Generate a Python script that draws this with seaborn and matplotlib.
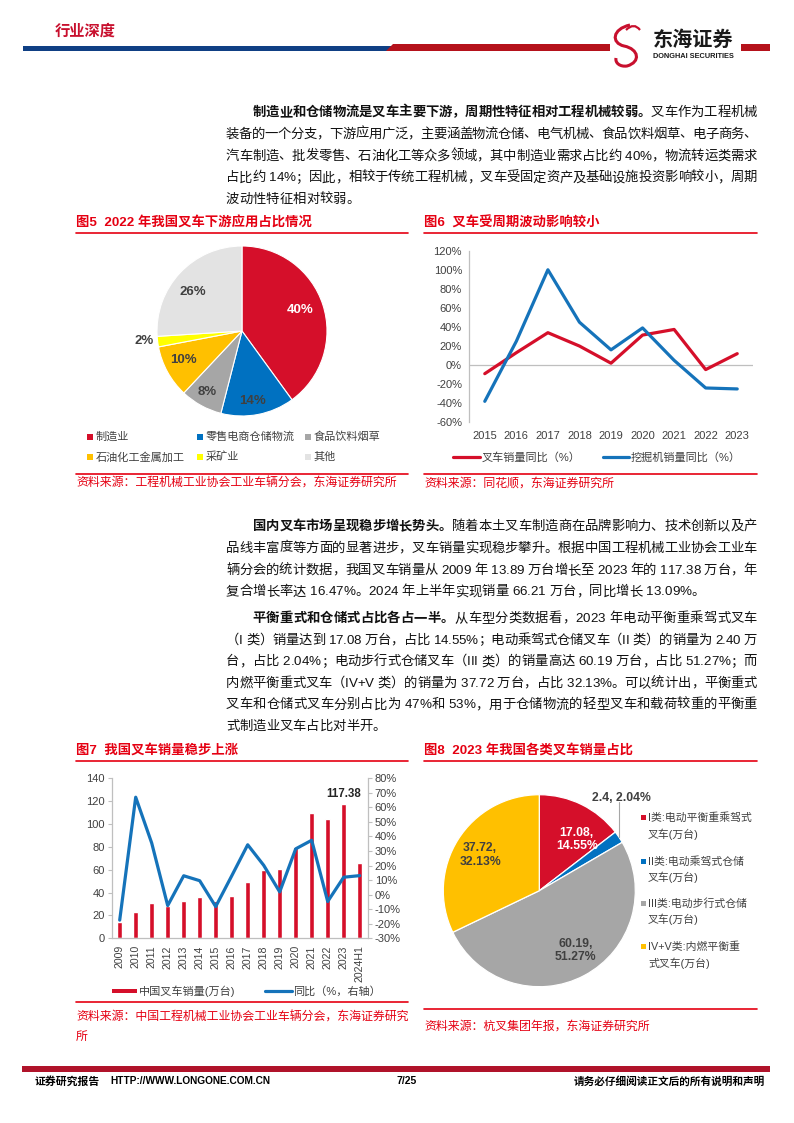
import numpy as np
import pandas as pd
import matplotlib
matplotlib.use('Agg')
import matplotlib.pyplot as plt
import seaborn as sns
from matplotlib import font_manager as fm
from matplotlib.patches import Rectangle, Polygon, PathPatch
from matplotlib.path import Path

W, H = 794, 1123

# ---------------- data ----------------
downstream = ['制造业', '零售电商仓储物流', '食品饮料烟草', '石油化工金属加工', '采矿业', '其他']
downstream_pct = [40, 14, 8, 10, 2, 26]

cycle_years = [2015, 2016, 2017, 2018, 2019, 2020, 2021, 2022, 2023]
forklift_yoy = [-9, 13, 34, 20, 2, 31.5, 37.4, -4.7, 12]
excavator_yoy = [-38, 25, 100, 45, 16, 39, 5, -24, -25]

sales_years = ['2009', '2010', '2011', '2012', '2013', '2014', '2015', '2016',
               '2017', '2018', '2019', '2020', '2021', '2022', '2023', '2024H1']
sales = [13.89, 22.8, 31.2, 28.7, 32.9, 36.0, 32.8, 37.0,
         49.7, 59.7, 60.8, 80.0, 109.9, 104.8, 117.38, 66.21]
sales_yoy = [-17.5, 67, 35.5, -7.5, 13, 9.6, -8.2, 12.9,
             34.3, 20.2, 1.9, 31.5, 37.4, -4.7, 12.0, 13.09]

types = ['I类:电动平衡重乘驾式\n叉车(万台)', 'II类:电动乘驾式仓储\n叉车(万台)',
         'III类:电动步行式仓储\n叉车(万台)', 'IV+V类:内燃平衡重\n式叉车(万台)']
type_sales = [17.08, 2.4, 60.19, 37.72]
type_pct = [14.55, 2.04, 51.27, 32.13]

# ---------------- style ----------------
RED = '#D50F2A'
BLUE = '#0071C1'
LBLUE = '#1573BA'
GRAY = '#A6A6A6'
GOLD = '#FFC000'
YELLOW = '#FFFF00'
LGRAY = '#E3E3E3'
TRED = '#E50012'
DARK = '#404040'
AXC = '#BFBFBF'

sns.set_style('white')
plt.rcParams['font.family'] = ['Liberation Sans', 'Noto Sans CJK SC']
plt.rcParams['axes.unicode_minus'] = False

fig = plt.figure(figsize=(W / 100, H / 100), dpi=100)
bg = fig.add_axes([0, 0, 1, 1])
bg.set_xlim(0, W)
bg.set_ylim(H, 0)
bg.axis('off')


def rect(x0, y0, x1, y1):
    return [x0 / W, 1 - y1 / H, (x1 - x0) / W, (y1 - y0) / H]


def txt(x, y, s, size, color='black', weight='normal', ha='left', va='center', **kw):
    return bg.text(x, y, s, fontsize=size, color=color, weight=weight,
                   ha=ha, va=va, **kw)


# ---------- justified body text, glyph by glyph ----------
BODY_PT = 9.6
BODY_EM = BODY_PT * 100 / 72
_paths = {}


def glyph_adv(ch, bold):
    fam = 'Liberation Sans' if ord(ch) < 128 else 'Noto Sans CJK SC'
    key = (fam, bold)
    if key not in _paths:
        _paths[key] = fm.findfont(fm.FontProperties(family=fam, weight='bold' if bold else 'normal'))
    f = fm.get_font(_paths[key])
    f.set_size(100, 72)
    g = f.load_char(ord(ch))
    return g.linearHoriAdvance / 65536 / 100 * BODY_EM, fam


def body_line(x0, x1, yc, parts, justify=True):
    chars = [(c, b) for s, b in parts for c in s]
    info = [glyph_adv(c, b) for c, b in chars]
    gap = 0
    if justify and len(chars) > 1:
        gap = (x1 - x0 - sum(a for a, _ in info)) / (len(chars) - 1)
    x = x0
    for (c, b), (a, fam) in zip(chars, info):
        if c != ' ':
            bg.text(x, yc + 0.37 * BODY_EM, c, fontsize=BODY_PT, family=fam,
                    weight='bold' if b else 'normal', color='#111111',
                    ha='left', va='baseline')
        x += a + gap


def paragraph(y0, lines, step=21.8, left=226, right=757):
    for i, parts in enumerate(lines):
        x0 = left + 2 * BODY_EM if i == 0 else left
        body_line(x0, right, y0 + i * step, parts, justify=(i < len(lines) - 1))


# ---------------- header ----------------
txt(55, 31, '行业深度', 11, color='#C8102E', weight='bold')
bg.add_patch(Rectangle((23, 45.5), 369, 5.5, color='#0F3F84', lw=0))
bg.add_patch(Polygon([(386, 51), (393, 44), (610, 44), (610, 51)], color='#B5121B', lw=0))
bg.add_patch(Rectangle((741, 44), 29, 7, color='#B5121B', lw=0))
dragon = Path([(630, 25), (612, 29), (611, 43), (624, 46),
               (639, 49), (641, 62), (627, 66),
               (620, 67), (615, 63), (616, 58)],
              [Path.MOVETO, Path.CURVE4, Path.CURVE4, Path.CURVE4,
               Path.CURVE4, Path.CURVE4, Path.CURVE4,
               Path.CURVE4, Path.CURVE4, Path.CURVE4])
bg.add_patch(PathPatch(dragon, fill=False, edgecolor='#C8102E', lw=2.2))
bg.add_patch(PathPatch(Path([(626, 30), (634, 22), (640, 30)],
                            [Path.MOVETO, Path.CURVE3, Path.CURVE3]),
                       fill=False, edgecolor='#C8102E', lw=1.6))
txt(653, 40, '东海证券', 14.5, color='#1a1a1a', weight='bold')
txt(653, 57, 'DONGHAI SECURITIES', 5.3, color='#1a1a1a', weight='bold')

# ---------------- body text ----------------
paragraph(111, [
    [('制造业和仓储物流是叉车主要下游，周期性特征相对工程机械较弱。', True), ('叉车作为工程机械', False)],
    [('装备的一个分支，下游应用广泛，主要涵盖物流仓储、电气机械、食品饮料烟草、电子商务、', False)],
    [('汽车制造、批发零售、石油化工等众多领域，其中制造业需求占比约 40%，物流转运类需求', False)],
    [('占比约 14%；因此，相较于传统工程机械，叉车受固定资产及基础设施投资影响较小，周期', False)],
    [('波动性特征相对较弱。', False)],
])
paragraph(525, [
    [('国内叉车市场呈现稳步增长势头。', True), ('随着本土叉车制造商在品牌影响力、技术创新以及产', False)],
    [('品线丰富度等方面的显著进步，叉车销量实现稳步攀升。根据中国工程机械工业协会工业车', False)],
    [('辆分会的统计数据，我国叉车销量从 2009 年 13.89 万台增长至 2023 年的 117.38 万台，年', False)],
    [('复合增长率达 16.47%。2024 年上半年实现销量 66.21 万台，同比增长 13.09%。', False)],
])
paragraph(617, [
    [('平衡重式和仓储式占比各占一半。', True), ('从车型分类数据看，2023 年电动平衡重乘驾式叉车', False)],
    [('（I 类）销量达到 17.08 万台，占比 14.55%；电动乘驾式仓储叉车（II 类）的销量为 2.40 万', False)],
    [('台，占比 2.04%；电动步行式仓储叉车（III 类）的销量高达 60.19 万台，占比 51.27%；而', False)],
    [('内燃平衡重式叉车（IV+V 类）的销量为 37.72 万台，占比 32.13%。可以统计出，平衡重式', False)],
    [('叉车和仓储式叉车分别占比为 47%和 53%，用于仓储物流的轻型叉车和载荷较重的平衡重', False)],
    [('式制造业叉车占比对半开。', False)],
], step=21.6)


# ---------------- frames: titles / sources ----------------
def frame(x0, x1, ty, title, ly, sy, source):
    txt(x0, ty, title, 9.6, color=TRED, weight='bold')
    bg.plot([x0, x1], [ty + 10.5, ty + 10.5], color=TRED, lw=1.2)
    bg.plot([x0, x1], [ly, ly], color=TRED, lw=1.2)
    for i, s in enumerate(source):
        txt(x0, sy + i * 19, s, 8.6, color=TRED)


frame(76, 408, 222.7, '图5  2022 年我国叉车下游应用占比情况', 473.5, 484,
      ['资料来源：工程机械工业协会工业车辆分会，东海证券研究所'])
frame(424, 757, 222.7, '图6  叉车受周期波动影响较小', 473.5, 484,
      ['资料来源：同花顺，东海证券研究所'])
frame(76, 408, 750, '图7  我国叉车销量稳步上涨', 1002, 1018,
      ['资料来源：中国工程机械工业协会工业车辆分会，东海证券研究', '所'])
frame(424, 757, 750, '图8  2023 年我国各类叉车销量占比', 1009, 1027,
      ['资料来源：杭叉集团年报，东海证券研究所'])

# ---------------- Figure 5: pie ----------------
c5 = [RED, BLUE, GRAY, GOLD, YELLOW, LGRAY]
ax5 = fig.add_axes(rect(242 - 85, 331 - 85, 242 + 85, 331 + 85))
wedges5, _ = ax5.pie(downstream_pct, colors=c5, startangle=90, counterclock=False,
                     wedgeprops=dict(edgecolor='white', linewidth=0.8))
ax5.set_xlim(-1, 1)
ax5.set_ylim(-1, 1)
dist5 = [0.73, 0.83, 0.83, 0.77, 1.16, 0.74]
shift5 = [2, -2.5, -1, -2.6, -1.2, 4.8]
for w, p, d, s, i in zip(wedges5, downstream_pct, dist5, shift5, range(6)):
    a = np.deg2rad((w.theta1 + w.theta2) / 2 + s)
    ax5.text(d * np.cos(a), d * np.sin(a), f'{p}%', ha='center', va='center',
             fontsize=9.5, weight='bold', color='white' if i == 0 else DARK)

leg5_x = [90, 200, 308]
leg5_y = [437, 457]
for i, (lab, col) in enumerate(zip(downstream, c5)):
    x, y = leg5_x[i % 3], leg5_y[i // 3]
    bg.add_patch(Rectangle((x - 3, y - 3), 6, 6, color=col, lw=0))
    txt(x + 6, y, lab, 8, color=DARK)

# ---------------- Figure 6: lines ----------------
df6 = pd.DataFrame({
    'year': cycle_years * 2,
    'yoy': forklift_yoy + excavator_yoy,
    'series': ['叉车销量同比（%）'] * len(cycle_years) + ['挖掘机销量同比（%）'] * len(cycle_years),
})
ax6 = fig.add_axes(rect(469, 250.7, 753, 422.3))
ax6.set_facecolor('none')
sns.lineplot(data=df6, x='year', y='yoy', hue='series',
             palette={'叉车销量同比（%）': RED, '挖掘机销量同比（%）': LBLUE},
             linewidth=2.3, legend=False, ax=ax6)
ax6.axhline(0, color=AXC, lw=0.9, zorder=0)
ax6.set_xlim(2014.5, 2023.5)
ax6.set_ylim(-60, 120)
ax6.set_xticks(cycle_years)
ax6.set_yticks(range(-60, 121, 20))
ax6.set_yticklabels([f'{v}%' for v in range(-60, 121, 20)])
ax6.set_xlabel('')
ax6.set_ylabel('')
for k in ['top', 'right', 'bottom']:
    ax6.spines[k].set_visible(False)
ax6.spines['left'].set_color(AXC)
ax6.spines['left'].set_linewidth(0.9)
ax6.tick_params(axis='y', length=3, color=AXC, labelsize=8, labelcolor=DARK, pad=2)
ax6.tick_params(axis='x', length=0, labelsize=8, labelcolor=DARK, pad=6)

bg.plot([453, 480], [457, 457], color=RED, lw=2.3)
txt(482, 457, '叉车销量同比（%）', 8, color=DARK)
bg.plot([603, 629], [457, 457], color=LBLUE, lw=2.3)
txt(631, 457, '挖掘机销量同比（%）', 8, color=DARK)

# ---------------- Figure 7: bars + line ----------------
ax7 = fig.add_axes(rect(111.7, 778.3, 367.7, 938.3))
ax7.set_facecolor('none')
sns.barplot(x=sales_years, y=sales, color=RED, saturation=1, width=0.32, ax=ax7)
ax7b = ax7.twinx()
sns.lineplot(x=np.arange(len(sales_years)), y=sales_yoy, color=LBLUE, linewidth=2.3, ax=ax7b)
ax7.set_xlim(-0.5, len(sales_years) - 0.5)
ax7.set_ylim(0, 140)
ax7b.set_ylim(-30, 80)
ax7.set_yticks(range(0, 141, 20))
ax7b.set_yticks(range(-30, 81, 10))
ax7b.set_yticklabels([f'{v}%' for v in range(-30, 81, 10)])
ax7.set_xticks(range(len(sales_years)))
ax7.set_xticklabels(sales_years, rotation=90)
ax7.set_xticks(np.arange(-0.5, len(sales_years), 1), minor=True)
ax7.annotate(f'{sales[14]:.2f}', xy=(14, sales[14]), xytext=(0, 3),
             textcoords='offset points', ha='center', va='bottom',
             fontsize=8.3, weight='bold', color='#262626')
for a in (ax7, ax7b):
    a.set_xlabel('')
    a.set_ylabel('')
    a.spines['top'].set_visible(False)
ax7.spines['right'].set_visible(False)
ax7b.spines['left'].set_visible(False)
ax7b.spines['bottom'].set_visible(False)
for sp in (ax7.spines['left'], ax7.spines['bottom'], ax7b.spines['right']):
    sp.set_color(AXC)
    sp.set_linewidth(0.9)
ax7.tick_params(axis='y', length=3, color=AXC, labelsize=8, labelcolor=DARK, pad=2)
ax7b.tick_params(axis='y', length=3, color=AXC, labelsize=8, labelcolor=DARK, pad=2)
ax7.tick_params(axis='x', which='major', length=0, labelsize=7.6, labelcolor=DARK, pad=5)
ax7.tick_params(axis='x', which='minor', length=3, color=AXC)

bg.add_patch(Rectangle((112, 988.8), 25, 4.5, color=RED, lw=0))
txt(139, 991, '中国叉车销量(万台)', 8, color=DARK)
bg.plot([265, 292], [991, 991], color=LBLUE, lw=2.3)
txt(293, 991, '同比（%，右轴）', 8, color=DARK)

# ---------------- Figure 8: pie ----------------
c8 = [RED, BLUE, GRAY, GOLD]
ax8 = fig.add_axes(rect(539.3 - 96, 890.7 - 96, 539.3 + 96, 890.7 + 96))
wedges8, _ = ax8.pie(type_sales, colors=c8, startangle=90, counterclock=False,
                     wedgeprops=dict(edgecolor='white', linewidth=0.9))
ax8.set_xlim(-1, 1)
ax8.set_ylim(-1, 1)
dist8 = [0.66, 1.0, 0.73, 0.72]
shift8 = [-10, 0, 3.5, 1]
for i, (w, v, p, d, s) in enumerate(zip(wedges8, type_sales, type_pct, dist8, shift8)):
    a = np.deg2rad((w.theta1 + w.theta2) / 2 + s)
    if i == 1:
        x, y = d * np.cos(a), d * np.sin(a)
        ax8.plot([x, x], [y, 0.92], color=GRAY, lw=0.8, clip_on=False)
        ax8.text(x + 0.03, 0.97, f'{v:g}, {p:.2f}%', ha='center', va='center',
                 fontsize=8.8, weight='bold', color=DARK)
        continue
    ax8.text(d * np.cos(a), d * np.sin(a), f'{v:.2f},\n{p:.2f}%', ha='center', va='center',
             fontsize=8.8, weight='bold', color='white' if i == 0 else DARK, linespacing=1.15)

leg8_y = [817.7, 861, 903, 946.7]
for lab, col, y in zip(types, c8, leg8_y):
    bg.add_patch(Rectangle((640.5, y - 2.5), 5, 5, color=col, lw=0))
    for j, line in enumerate(lab.split('\n')):
        txt(648, y + j * 16.6, line, 7.8, color=DARK)

# ---------------- footer ----------------
bg.add_patch(Rectangle((22, 1066), 748, 5.5, color='#B0132A', lw=0))
txt(35, 1081, '证券研究报告', 7.8, weight='bold')
txt(110, 1081, 'HTTP://WWW.LONGONE.COM.CN', 7.3, weight='bold')
txt(407, 1081, '7/25', 7.5, weight='bold', ha='center')
txt(765, 1081, '请务必仔细阅读正文后的所有说明和声明', 7.7, weight='bold', ha='right')

fig.savefig('out.png', dpi=100)
